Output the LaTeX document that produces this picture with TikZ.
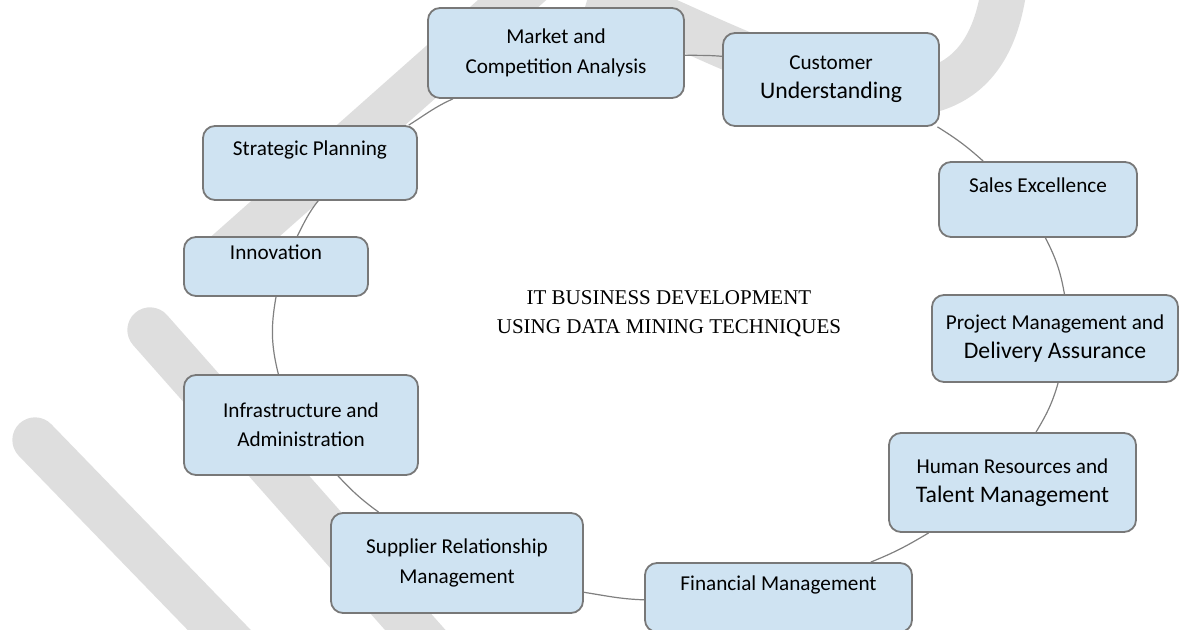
\documentclass[tikz,border=0pt]{standalone}
\usepackage{fontspec}
\setmainfont{Liberation Serif}
\newfontfamily\boxfont{Carlito}
\usetikzlibrary{backgrounds}
\definecolor{boxfill}{RGB}{207,227,242}
\definecolor{boxline}{RGB}{120,120,120}
\definecolor{linkgray}{RGB}{128,128,128}
\definecolor{wmgray}{RGB}{222,222,222}
\newcommand\bigline{\fontsize{17.8}{22}\selectfont}
\tikzset{
	box/.style 2 args = {draw=boxline, fill=boxfill, line width=1.35pt,
		rounded corners=9pt, minimum width=#1, minimum height=#2,
		inner sep=2pt, align=center,
		font=\boxfont\fontsize{15.9}{22}\selectfont},
	link/.style = {draw=linkgray, line width=0.9pt},
	band/.style = {draw=wmgray, line width=34pt, line cap=round}
}

\begin{document}
\begin{tikzpicture}[x=0.75pt, y=0.75pt]
\useasboundingbox (0,0) rectangle (1184,630);
\begin{scope}[on background layer]
\clip (0,0) rectangle (1184,630);
\draw[band] (35,190) -- (260,-42);
\draw[band] (150,300) -- (440,-28);
\draw[band] (212,364) -- (546,660);
\draw[band, line cap=butt] (590,640) .. controls (700,610) and (980,415) .. (1005,650);
\end{scope}

\node[box={192pt}{67.5pt}] (market) at (556,577) {Market and\\Competition Analysis};
\node[box={162pt}{69.75pt}] (cust) at (831,550.5) {Customer\\{\bigline Understanding}};
\node[box={160.5pt}{55.5pt}] (strat) at (310,467) {Strategic Planning\\\mbox{}};
\node[box={138pt}{44.25pt}] (innov) at (276,363.5) {Innovation\\\mbox{}};
\node[box={148.5pt}{56.25pt}] (sales) at (1038,430.5) {Sales Excellence\\\mbox{}};
\node[box={184.5pt}{65.25pt}] (proj) at (1055,291.5) {Project Management and\\{\bigline Delivery Assurance}};
\node[box={185.25pt}{74.25pt}] (hr) at (1012.5,147.5) {Human Resources and\\{\bigline Talent Management}};
\node[box={200.25pt}{51.75pt}] (fin) at (778.5,32.5) {Financial Management\\\mbox{}};
\node[box={189pt}{75pt}] (supp) at (457,67) {Supplier Relationship\\Management};
\node[box={175.5pt}{75pt}] (infra) at (301,205) {Infrastructure and\\Administration};

\node[align=center, font=\fontsize{15.75}{21.75}\selectfont] (title) at (669,316.5)
	{IT BUSINESS DEVELOPMENT\\USING DATA MINING TECHNIQUES};

\begin{scope}[on background layer]
\draw[link] (strat.21) to[out=32, in=204] (market.204);
\draw[link] (market.-1) to[out=-1, in=175] (cust.168);
\draw[link] (cust.-24) to[out=-32, in=138] (sales.145);
\draw[link] (sales.-79) to[out=-63, in=100] (proj.78);
\draw[link] (proj.-86) to[out=-106, in=59] (hr.65);
\draw[link] (hr.211) to[out=-149, in=22] (fin.21);
\draw[link] (fin.181) to[out=178, in=-9] (supp.-13);
\draw[link] (supp.147) to[out=144, in=-47] (infra.-54);
\draw[link] (infra.114) to[out=104, in=-100] (innov.-90);
\draw[link] (innov.55) to[out=63, in=232] (strat.-78);
\end{scope}
\end{tikzpicture}
\end{document}
